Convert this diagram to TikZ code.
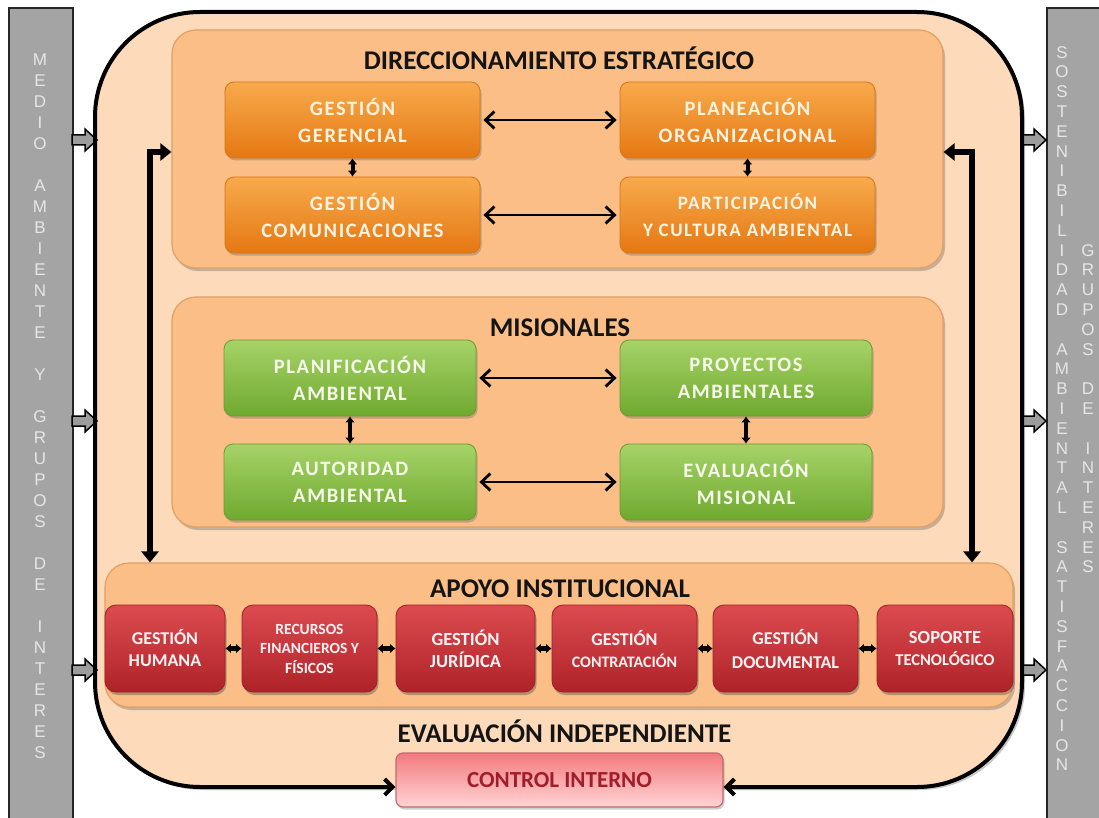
\documentclass[tikz,border=0pt]{standalone}
\usepackage{fontspec}
\setmainfont{Carlito}
\newfontfamily\lsfont[LetterSpace=8]{Carlito}
\newfontfamily\barfont{Liberation Sans}
\usetikzlibrary{arrows.meta,shadows}
\definecolor{bargray}{HTML}{A4A4A4}
\definecolor{bartext}{HTML}{E6E6E6}
\definecolor{outerfill}{HTML}{FCDABA}
\definecolor{secfill}{HTML}{FABE86}
\definecolor{secdraw}{HTML}{E0A066}
\definecolor{orTop}{HTML}{F8AA4C}
\definecolor{orBot}{HTML}{E57812}
\definecolor{orDraw}{HTML}{D4751A}
\definecolor{grTop}{HTML}{A6D368}
\definecolor{grBot}{HTML}{6FA92F}
\definecolor{grDraw}{HTML}{6A9E30}
\definecolor{rdTop}{HTML}{DC4B50}
\definecolor{rdBot}{HTML}{AE2328}
\definecolor{rdDraw}{HTML}{9A2024}
\definecolor{ciTop}{HTML}{F27A7E}
\definecolor{ciBot}{HTML}{FFD4D4}
\definecolor{ciDraw}{HTML}{C26A6A}
\definecolor{ciText}{HTML}{A01E2B}
\definecolor{orText}{HTML}{FFF3E2}
\definecolor{grText}{HTML}{F6FBEC}
\definecolor{rdText}{HTML}{FFF2F2}
\begin{document}
\begin{tikzpicture}[x=1pt,y=-1pt,
  barbox/.style={draw=black!85, line width=2pt, fill=bargray, inner sep=0pt},
  bartxt/.style={align=center, inner sep=0pt, text=bartext, anchor=north},
  garrow/.style={draw=black, line width=1.5pt, fill=bargray!95!black, line join=miter},
  sec/.style={draw=secdraw, line width=1.2pt, fill=secfill, rounded corners=24pt, inner sep=0pt,
    drop shadow={shadow xshift=2pt, shadow yshift=-3pt, opacity=0.3, fill=black!70}},
  ttl/.style={font=\bfseries\fontsize{27}{30}\selectfont, text=black!92, inner sep=0pt, anchor=base},
  obox/.style={draw=orDraw, line width=0.8pt, top color=orTop, bottom color=orBot, rounded corners=9pt,
    minimum width=255pt, minimum height=76pt, inner sep=0pt, align=center, text=orText,
    font=\lsfont\bfseries\fontsize{20.5}{27}\selectfont,
    drop shadow={shadow xshift=1.5pt, shadow yshift=-2.5pt, opacity=0.35, fill=black!60}},
  gbox/.style={draw=grDraw, line width=0.8pt, top color=grTop, bottom color=grBot, rounded corners=9pt,
    minimum width=252pt, minimum height=76pt, inner sep=0pt, align=center, text=grText,
    font=\lsfont\bfseries\fontsize{20.5}{27}\selectfont,
    drop shadow={shadow xshift=1.5pt, shadow yshift=-2.5pt, opacity=0.35, fill=black!60}},
  rbox/.style={draw=rdDraw, line width=0.8pt, top color=rdTop, bottom color=rdBot, rounded corners=11pt,
    minimum height=87pt, inner sep=0pt, align=center, text=rdText,
    font=\bfseries\fontsize{18}{22}\selectfont,
    drop shadow={shadow xshift=1.5pt, shadow yshift=-3pt, opacity=0.4, fill=black!70}},
  cibox/.style={draw=ciDraw, line width=1.2pt, top color=ciTop, bottom color=ciBot, rounded corners=7pt,
    minimum width=327pt, minimum height=54pt, inner sep=0pt, text=ciText,
    font=\bfseries\fontsize{23}{26}\selectfont,
    drop shadow={shadow xshift=1.5pt, shadow yshift=-2.5pt, opacity=0.3, fill=black!60}},
  harr/.style={line width=2.8pt, <->, >={Straight Barb[length=9pt,width=17pt]}, shorten <=3pt, shorten >=3pt},
  varr/.style={line width=4pt, <->, >={Latex[length=6pt,width=10pt]}},
  rarr/.style={line width=5pt, <->, >={Latex[length=5.5pt,width=10pt]}},
  bigarr/.style={line width=6pt, <->, >={Triangle[length=11pt,width=17pt]}},
  outerline/.style={line width=4pt, <->, >={Straight Barb[length=8pt,width=16pt]}, rounded corners=105pt}
]
\useasboundingbox (0,0) rectangle (1099,818);
\fill[white] (0,0) rectangle (1099,818);

% side bars
\node[barbox, minimum width=64pt, minimum height=830pt, anchor=north west] (lbar) at (8,7) {};
\node[barbox, minimum width=70pt, minimum height=830pt, anchor=north west] (rbar) at (1046,7) {};
\node[bartxt, font=\barfont\fontsize{17}{21}\selectfont] (ltxt) at (40,54)
  {M\\E\\D\\I\\O\\[21pt]A\\M\\B\\I\\E\\N\\T\\E\\[21pt]Y\\[21pt]G\\R\\U\\P\\O\\S\\[21pt]D\\E\\[21pt]I\\N\\T\\E\\R\\E\\S};
\node[bartxt, font=\barfont\fontsize{17}{19.8}\selectfont] (rtxta) at (1062,46)
  {S\\O\\S\\T\\E\\N\\I\\B\\I\\L\\I\\D\\A\\D\\[19.8pt]A\\M\\B\\I\\E\\N\\T\\A\\L\\[19.8pt]S\\A\\T\\I\\S\\F\\A\\C\\C\\I\\O\\N};
\node[bartxt, font=\barfont\fontsize{17}{19.8}\selectfont] (rtxtb) at (1088,244)
  {G\\R\\U\\P\\O\\S\\[19.8pt]D\\E\\[19.8pt]I\\N\\T\\E\\R\\E\\S};

% outer container fill
\path[fill=outerfill, rounded corners=105pt, drop shadow={shadow xshift=3pt, shadow yshift=-3pt, opacity=0.3, fill=black!70}]
  (95,787) -- (95,12) -- (1022,12) -- (1022,787) -- cycle;

% gray block arrows
\foreach \yy in {140,421,670} {
  \draw[garrow] (72,\yy-5) -- (85,\yy-5) -- (85,\yy-11) -- (97,\yy) -- (85,\yy+11) -- (85,\yy+5) -- (72,\yy+5) -- cycle;
  \draw[garrow] (1022,\yy-5) -- (1034,\yy-5) -- (1034,\yy-11) -- (1046,\yy) -- (1034,\yy+11) -- (1034,\yy+5) -- (1022,\yy+5) -- cycle;
}

% sections
\node[sec, minimum width=771pt, minimum height=238pt] (dir) at (557.5,149) {};
\node[sec, minimum width=771pt, minimum height=230pt] (mis) at (557.5,412) {};
\node[sec, minimum width=908pt, minimum height=144pt] (apo) at (559,635) {};

\node[ttl] (dirT) at (559,70) {DIRECCIONAMIENTO ESTRATÉGICO};
\node[ttl] (misT) at (560,336) {MISIONALES};
\node[ttl] (apoT) at (560,597) {APOYO INSTITUCIONAL};
\node[ttl] (evT) at (564.5,742) {EVALUACIÓN INDEPENDIENTE};

% orange boxes
\node[obox] (gg) at (352.5,120) {GESTIÓN\\GERENCIAL};
\node[obox] (gc) at (352.5,215) {GESTIÓN\\COMUNICACIONES};
\node[obox] (po) at (747.5,120) {PLANEACIÓN\\ORGANIZACIONAL};
\node[obox, font=\lsfont\bfseries\fontsize{19}{27}\selectfont] (pc) at (747.5,215) {PARTICIPACIÓN\\Y CULTURA AMBIENTAL};

% green boxes
\node[gbox] (pla) at (350,378) {PLANIFICACIÓN\\AMBIENTAL};
\node[gbox] (pro) at (746,378) {PROYECTOS\\AMBIENTALES};
\node[gbox] (aut) at (350,482) {AUTORIDAD\\AMBIENTAL};
\node[gbox] (evm) at (746,482) {EVALUACIÓN\\MISIONAL};

% red boxes
\node[rbox, minimum width=120pt] (gh) at (165,648.5) {GESTIÓN\\HUMANA};
\node[rbox, minimum width=135pt, font=\bfseries\fontsize{15.5}{19.5}\selectfont] (rf) at (309.5,648.5) {RECURSOS\\FINANCIEROS Y\\FÍSICOS};
\node[rbox, minimum width=139pt, font=\bfseries\fontsize{18.5}{22}\selectfont] (gj) at (465.5,648.5) {GESTIÓN\\JURÍDICA};
\node[rbox, minimum width=145pt] (gco) at (624.5,648.5) {GESTIÓN\\{\fontsize{16}{22}\selectfont CONTRATACIÓN}};
\node[rbox, minimum width=145pt, font=\bfseries\fontsize{18}{24}\selectfont] (gd) at (785.5,648.5) {GESTIÓN\\DOCUMENTAL};
\node[rbox, minimum width=136pt, font=\bfseries\fontsize{18.5}{22}\selectfont] (st) at (945,648.5) {SOPORTE\\{\fontsize{16.5}{22}\selectfont TECNOLÓGICO}};

% control interno
\node[cibox] (ci) at (559.5,780) {CONTROL INTERNO};

% outer border with arrows into control interno
\coordinate (by) at (0,787);
\draw[outerline] (ci.west |- by) -- (95,787) -- (95,12) -- (1022,12) -- (1022,787) -- (ci.east |- by);

% connectors
\draw[harr] (gg) -- (po);
\draw[harr] (gc) -- (pc);
\draw[varr] (gg) -- (gc);
\draw[varr] (po) -- (pc);
\draw[harr] (pla) -- (pro);
\draw[harr] (aut) -- (evm);
\draw[varr] (pla) -- (aut);
\draw[varr] (pro) -- (evm);
\draw[rarr] (gh) -- (rf);
\draw[rarr] (rf) -- (gj);
\draw[rarr] (gj) -- (gco);
\draw[rarr] (gco) -- (gd);
\draw[rarr] (gd) -- (st);

% big L arrows
\coordinate (lx) at (150,0);
\coordinate (rx) at (972,0);
\coordinate (ly) at (0,152);
\draw[bigarr] (apo.north -| lx) |- (dir.west |- ly);
\draw[bigarr] (apo.north -| rx) |- (dir.east |- ly);
\end{tikzpicture}
\end{document}
